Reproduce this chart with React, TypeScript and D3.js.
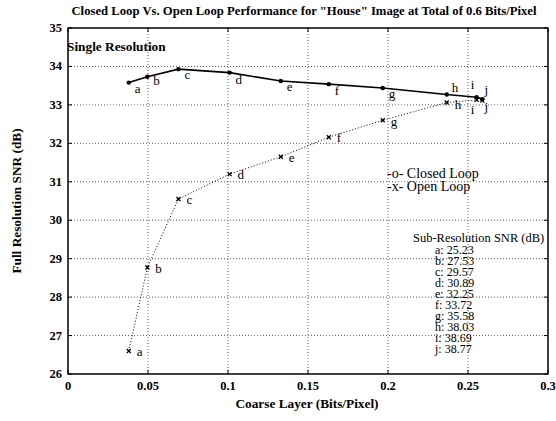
import React from "react";
import * as d3 from "d3";

const labels = ["a", "b", "c", "d", "e", "f", "g", "h", "i", "j"];
const coarseRate = [0.038, 0.0496, 0.069, 0.101, 0.133, 0.163, 0.1967, 0.2367, 0.2554, 0.259];
const closedLoop = [33.58, 33.73, 33.93, 33.84, 33.62, 33.54, 33.44, 33.27, 33.2, 33.15];
const openLoop = [26.6, 28.77, 30.55, 31.2, 31.65, 32.16, 32.6, 33.06, 33.13, 33.11];
const subResSNR = ["25.23", "27.53", "29.57", "30.89", "32.25", "33.72", "35.58", "38.03", "38.69", "38.77"];
const xTicks = [0, 0.05, 0.1, 0.15, 0.2, 0.25, 0.3];
const yTicks = [26, 27, 28, 29, 30, 31, 32, 33, 34, 35];

// label offsets (layout only)
const closedOff: [number, number][] = [
  [6, 10], [6, 8], [6, 10], [6, 11], [6, 10], [6, 11], [6, 10], [5, -3], [-6, -8], [2, -5],
];
const openOff: [number, number][] = [
  [8, 5], [8, 5], [8, 5], [8, 5], [8, 5], [8, 5], [8, 6], [8, 6], [-6, 14], [2, 10],
];

const W = 556;
const H = 421;
const L = 68, R = 548, T = 28, B = 374;
const serif = "'Liberation Serif', 'Times New Roman', serif";

export default function App() {
  const x = d3.scaleLinear().domain([0, 0.3]).range([L, R]);
  const y = d3.scaleLinear().domain([26, 35]).range([B, T]);
  const line = d3
    .line<number>()
    .x((_, i) => x(coarseRate[i]))
    .y((d) => y(d));

  return (
    <svg
      width={W}
      height={H}
      style={{ position: "absolute", left: 0, top: 0, background: "#fff" }}
      fontFamily={serif}
    >
      <rect x={0} y={0} width={W} height={H} fill="#fff" />
      {/* grid */}
      {xTicks.slice(1, -1).map((t) => (
        <line key={"gx" + t} x1={x(t)} x2={x(t)} y1={T} y2={B} stroke="#333" strokeWidth={0.8} strokeDasharray="1,2" />
      ))}
      {yTicks.slice(1, -1).map((t) => (
        <line key={"gy" + t} x1={L} x2={R} y1={y(t)} y2={y(t)} stroke="#333" strokeWidth={0.8} strokeDasharray="1,2" />
      ))}
      {/* box */}
      <rect x={L} y={T} width={R - L} height={B - T} fill="none" stroke="#000" strokeWidth={1.5} />
      {/* ticks */}
      {xTicks.map((t) => (
        <g key={"tx" + t}>
          <line x1={x(t)} x2={x(t)} y1={B} y2={B - 4} stroke="#000" />
          <line x1={x(t)} x2={x(t)} y1={T} y2={T + 4} stroke="#000" />
          <text x={x(t)} y={390} fontSize={12.5} fontWeight="bold" textAnchor="middle">
            {d3.format("~g")(t)}
          </text>
        </g>
      ))}
      {yTicks.map((t) => (
        <g key={"ty" + t}>
          <line x1={L} x2={L + 4} y1={y(t)} y2={y(t)} stroke="#000" />
          <line x1={R} x2={R - 4} y1={y(t)} y2={y(t)} stroke="#000" />
          <text x={62} y={y(t) + 4} fontSize={12.5} fontWeight="bold" textAnchor="end">
            {t}
          </text>
        </g>
      ))}
      {/* lines */}
      <path d={line(openLoop) || ""} fill="none" stroke="#000" strokeWidth={1} strokeDasharray="1,2" />
      <path d={line(closedLoop) || ""} fill="none" stroke="#000" strokeWidth={1.6} />
      {closedLoop.map((v, i) => (
        <circle key={"c" + i} cx={x(coarseRate[i])} cy={y(v)} r={2.2} fill="#000" />
      ))}
      {openLoop.map((v, i) => {
        const cx = x(coarseRate[i]);
        const cy = y(v);
        return (
          <path
            key={"o" + i}
            d={`M${cx - 2},${cy - 2}L${cx + 2},${cy + 2}M${cx - 2},${cy + 2}L${cx + 2},${cy - 2}`}
            stroke="#000"
            strokeWidth={1.3}
          />
        );
      })}
      {labels.map((lab, i) => (
        <g key={"l" + i}>
          <text x={x(coarseRate[i]) + closedOff[i][0]} y={y(closedLoop[i]) + closedOff[i][1]} fontSize={13}>
            {lab}
          </text>
          <text x={x(coarseRate[i]) + openOff[i][0]} y={y(openLoop[i]) + openOff[i][1]} fontSize={13}>
            {lab}
          </text>
        </g>
      ))}
      {/* annotations */}
      <text x={67} y={51} fontSize={13.3} fontWeight="bold">
        Single Resolution
      </text>
      <text x={387} y={178} fontSize={14}>
        -o- Closed Loop
      </text>
      <text x={387} y={191} fontSize={14}>
        -x- Open Loop
      </text>
      <text x={413} y={242} fontSize={12.5}>
        Sub-Resolution SNR (dB)
      </text>
      {labels.map((lab, i) => (
        <text key={"s" + i} x={435} y={254 + i * 11} fontSize={12}>
          {lab}: {subResSNR[i]}
        </text>
      ))}
      {/* titles */}
      <text x={304} y={15} fontSize={12.7} fontWeight="bold" textAnchor="middle">
        Closed Loop Vs. Open Loop Performance for "House" Image at Total of 0.6 Bits/Pixel
      </text>
      <text x={307} y={408} fontSize={13.3} fontWeight="bold" textAnchor="middle">
        Coarse Layer (Bits/Pixel)
      </text>
      <text
        transform={`translate(21,201) rotate(-90)`}
        fontSize={13.3}
        fontWeight="bold"
        textAnchor="middle"
      >
        Full Resolution SNR (dB)
      </text>
    </svg>
  );
}
